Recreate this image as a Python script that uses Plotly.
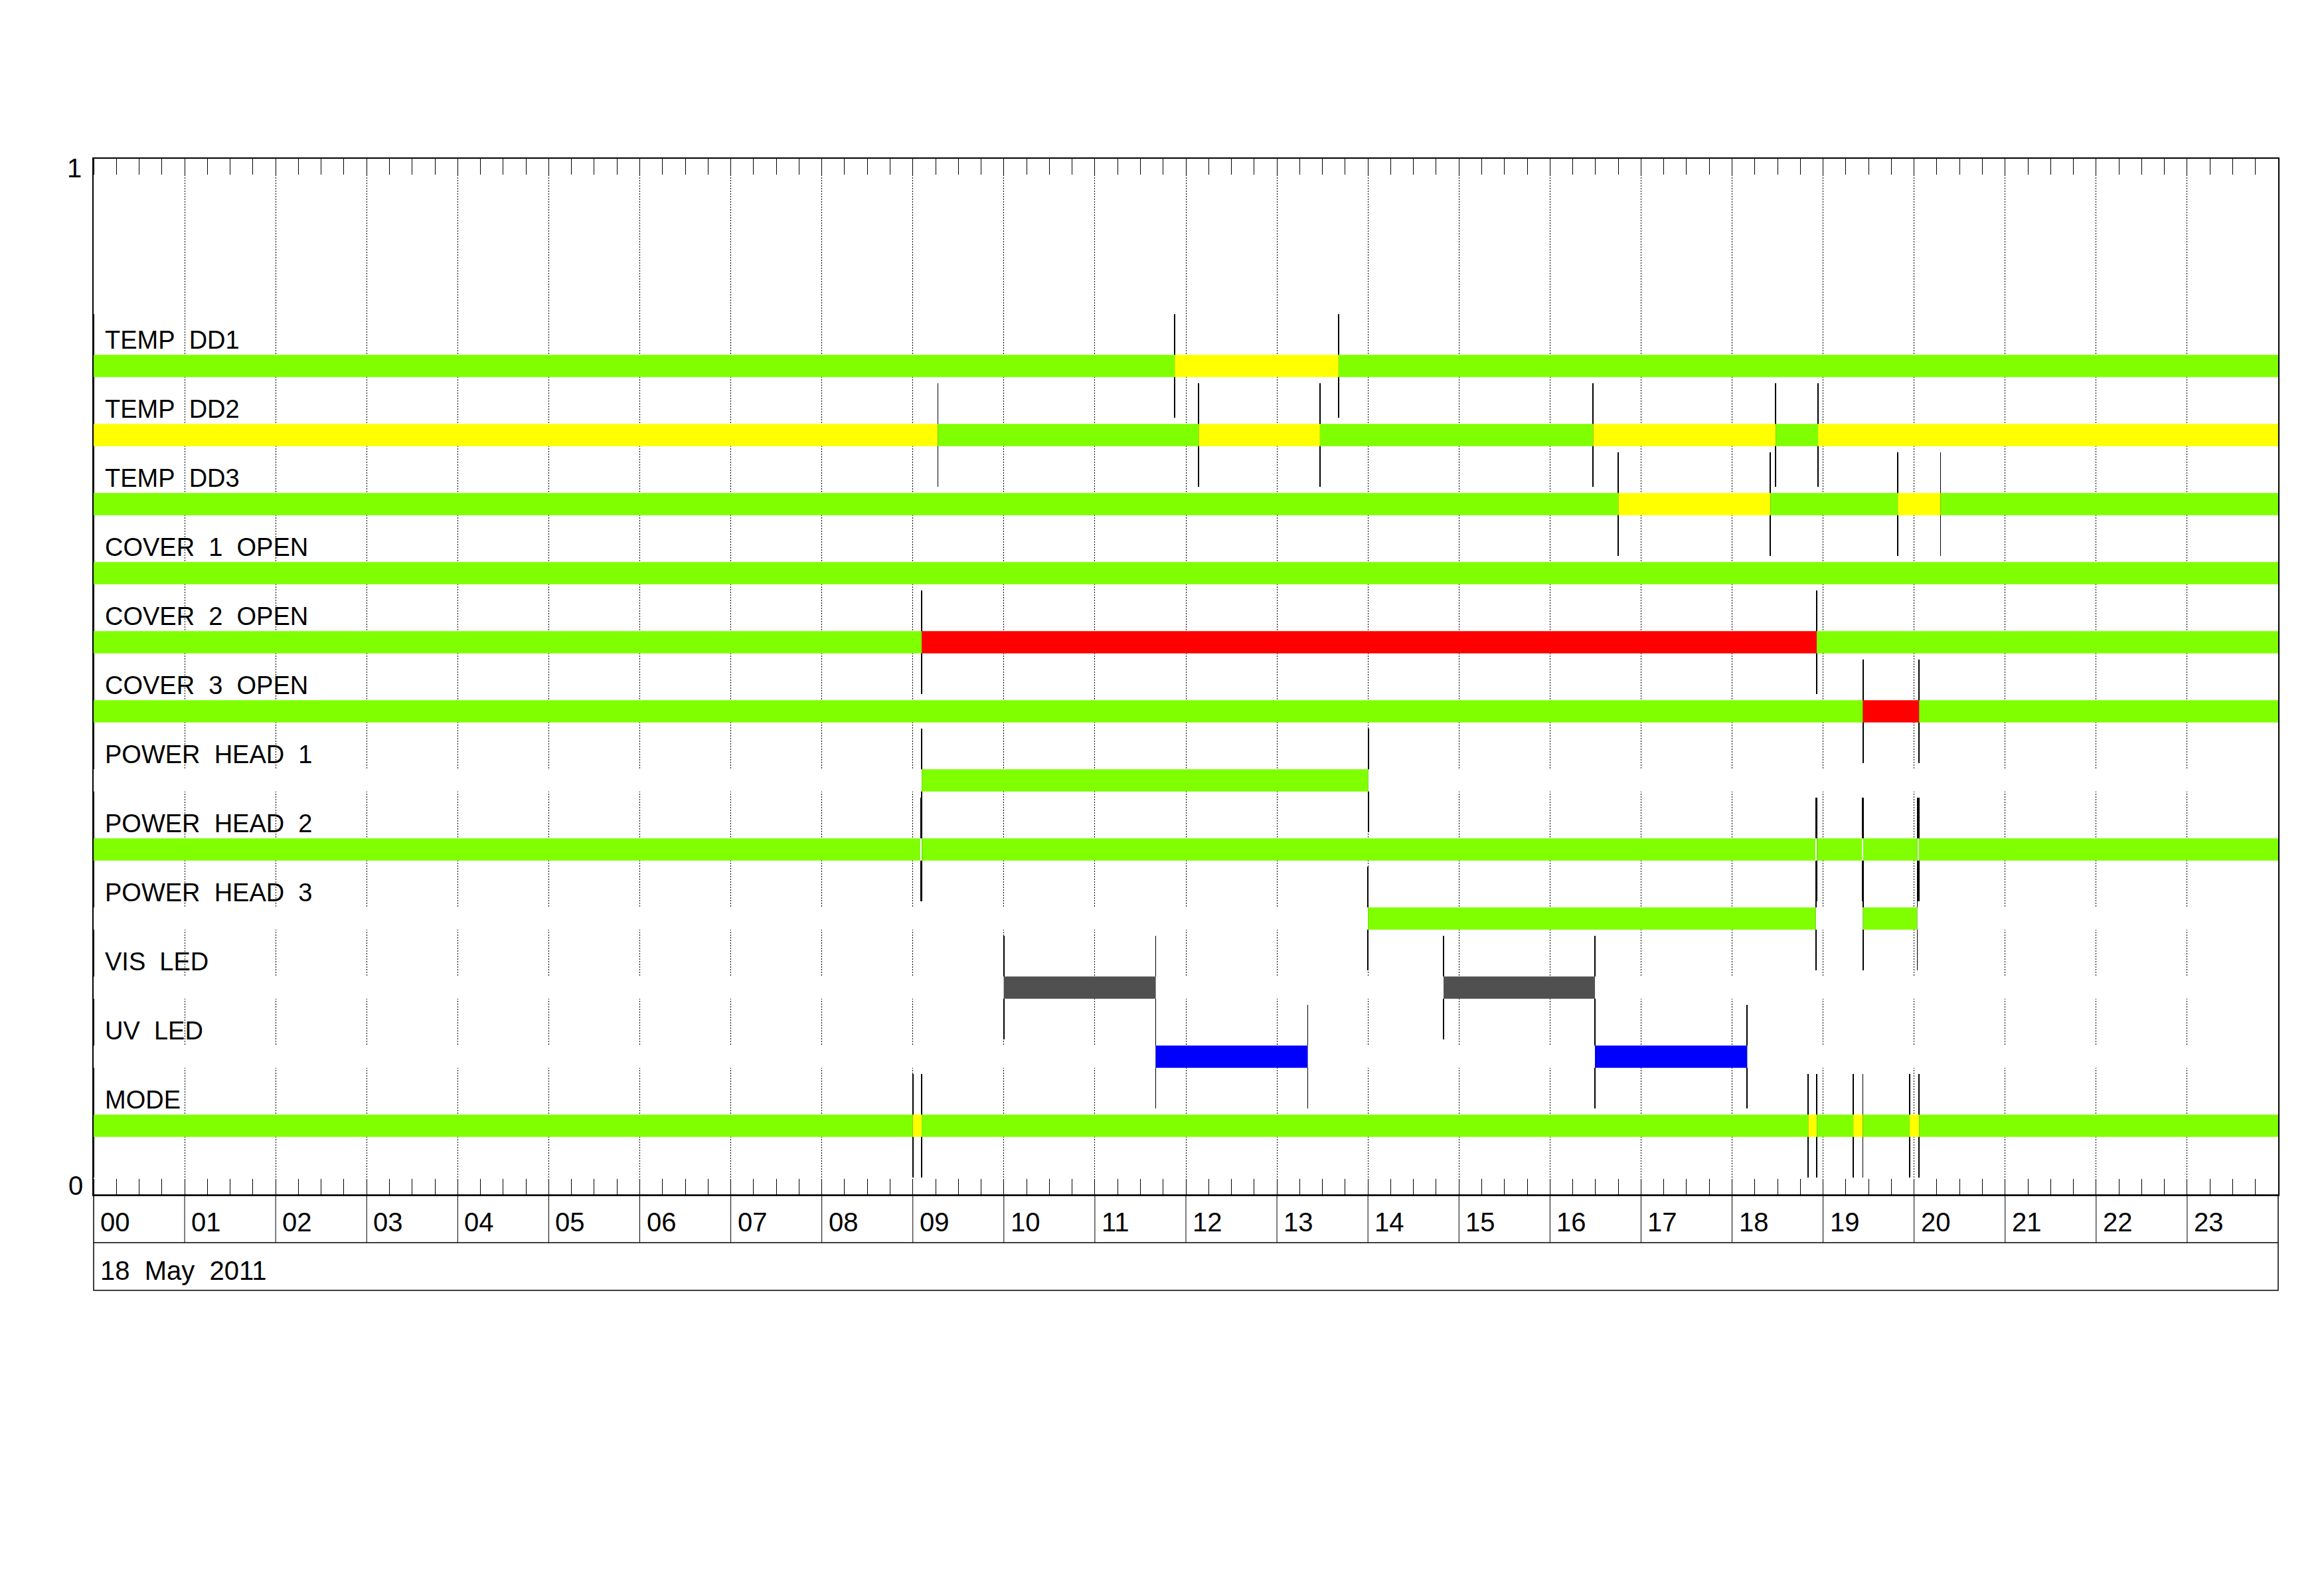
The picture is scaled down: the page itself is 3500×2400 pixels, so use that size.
import plotly.graph_objects as go

# ---------------- data ----------------
HOURS = list(range(24))
HOUR_LABELS = ["%02d" % h for h in HOURS]
DATE_LABEL = "18\u00a0\u00a0May\u00a0\u00a02011"

ROW_NAMES = ["TEMP DD1", "TEMP DD2", "TEMP DD3", "COVER 1 OPEN", "COVER 2 OPEN",
             "COVER 3 OPEN", "POWER HEAD 1", "POWER HEAD 2", "POWER HEAD 3",
             "VIS LED", "UV LED", "MODE"]
ROW_LEVELS = [0.8000, 0.7333, 0.6667, 0.6000, 0.5333, 0.4667,
              0.4000, 0.3333, 0.2667, 0.2000, 0.1333, 0.0667]

TEMP_DD1_EDGES = [0.0, 11.877, 13.677, 24.0]
TEMP_DD1_STATES = ["ok", "warn", "ok"]
TEMP_DD2_EDGES = [0.0, 9.275, 12.141, 13.473, 16.474, 18.479, 18.945, 24.0]
TEMP_DD2_STATES = ["warn", "ok", "warn", "ok", "warn", "ok", "warn"]
TEMP_DD3_EDGES = [0.0, 16.751, 18.421, 19.821, 20.290, 24.0]
TEMP_DD3_STATES = ["ok", "warn", "ok", "warn", "ok"]
COVER1_EDGES = [0.0, 24.0]
COVER1_STATES = ["ok"]
COVER2_EDGES = [0.0, 9.097, 18.930, 24.0]
COVER2_STATES = ["ok", "alarm", "ok"]
COVER3_EDGES = [0.0, 19.438, 20.055, 24.0]
COVER3_STATES = ["ok", "alarm", "ok"]
HEAD1_EDGES = [0.0, 9.098, 14.005, 24.0]
HEAD1_STATES = ["off", "ok", "off"]
HEAD2_EDGES = [0.0, 9.088, 9.100, 18.921, 18.933, 19.431, 19.440, 20.036, 20.052, 24.0]
HEAD2_STATES = ["ok", "off", "ok", "off", "ok", "off", "ok", "off", "ok"]
HEAD3_EDGES = [0.0, 14.000, 18.921, 19.438, 20.035, 24.0]
HEAD3_STATES = ["off", "ok", "off", "ok", "off"]
VIS_EDGES = [0.0, 10.000, 11.668, 14.833, 16.494, 24.0]
VIS_STATES = ["off", "vis", "off", "vis", "off"]
UV_EDGES = [0.0, 11.668, 13.339, 16.494, 18.167, 24.0]
UV_STATES = ["off", "uv", "off", "uv", "off"]
MODE_EDGES = [0.0, 9.000, 9.097, 18.837, 18.932, 19.332, 19.437, 19.951, 20.055, 24.0]
MODE_STATES = ["ok", "warn", "ok", "warn", "ok", "warn", "ok", "warn", "ok"]

ROWS_EDGES = [TEMP_DD1_EDGES, TEMP_DD2_EDGES, TEMP_DD3_EDGES, COVER1_EDGES, COVER2_EDGES,
              COVER3_EDGES, HEAD1_EDGES, HEAD2_EDGES, HEAD3_EDGES, VIS_EDGES, UV_EDGES,
              MODE_EDGES]
ROWS_STATES = [TEMP_DD1_STATES, TEMP_DD2_STATES, TEMP_DD3_STATES, COVER1_STATES,
               COVER2_STATES, COVER3_STATES, HEAD1_STATES, HEAD2_STATES, HEAD3_STATES,
               VIS_STATES, UV_STATES, MODE_STATES]

# ---------------- style ----------------
STATE_COLORS = {"ok": "#7FFF00", "warn": "#FFFF00", "alarm": "#FF0000",
                "off": "#FFFFFF", "vis": "#505050", "uv": "#0000FF"}
BAR_THICK = 0.0215
MARK_HALF = 0.05
MARK_WIDTH = 0.006
FONT = "Liberation Sans"

fig = go.Figure()

# transition markers (drawn first so bars sit on top of them)
mx, mbase, mh = [], [], []
for level, edges in zip(ROW_LEVELS, ROWS_EDGES):
    for t in sorted(set(edges[:-1])):
        mx.append(t)
        mbase.append(level - MARK_HALF)
        mh.append(2 * MARK_HALF)
fig.add_trace(go.Bar(orientation="v", x=mx, y=mh, base=mbase, width=MARK_WIDTH,
                     marker=dict(color="black", line=dict(width=0)),
                     hoverinfo="skip", showlegend=False))

# state bars
for name, level, edges, states in zip(ROW_NAMES, ROW_LEVELS, ROWS_EDGES, ROWS_STATES):
    starts = edges[:-1]
    durs = [b - a for a, b in zip(edges[:-1], edges[1:])]
    fig.add_trace(go.Bar(orientation="h", y=[level] * len(starts), x=durs, base=starts,
                         width=BAR_THICK, name=name,
                         marker=dict(color=[STATE_COLORS[s] for s in states],
                                     line=dict(width=0)),
                         hoverinfo="skip", showlegend=False))

annotations = []
for name, level in zip(ROW_NAMES, ROW_LEVELS):
    annotations.append(dict(xref="x", yref="y", x=0, y=level + 0.0252, xanchor="left",
                            yanchor="middle", xshift=15, showarrow=False,
                            text=name.replace(" ", "\u00a0\u00a0"),
                            font=dict(family=FONT, size=38, color="black")))
for h, lab in zip(HOURS, HOUR_LABELS):
    annotations.append(dict(xref="x", yref="paper", x=h, y=-0.0264, xanchor="left",
                            yanchor="middle", xshift=8, showarrow=False, text=lab,
                            font=dict(family=FONT, size=40, color="black")))
annotations.append(dict(xref="paper", yref="paper", x=0, y=-0.0731, xanchor="left",
                        yanchor="middle", xshift=8, showarrow=False, text=DATE_LABEL,
                        font=dict(family=FONT, size=40, color="black")))
annotations.append(dict(xref="paper", yref="paper", x=0, y=1, xanchor="right",
                        yanchor="top", xshift=-16, yshift=10, showarrow=False, text="1",
                        font=dict(family=FONT, size=40, color="black")))
annotations.append(dict(xref="paper", yref="paper", x=0, y=0, xanchor="right",
                        yanchor="bottom", xshift=-14, yshift=-10, showarrow=False, text="0",
                        font=dict(family=FONT, size=40, color="black")))

STRIP1 = -0.04615
STRIP2 = -0.0921
shapes = [
    dict(type="rect", xref="paper", yref="paper", x0=0, x1=1, y0=STRIP2, y1=0,
         line=dict(color="black", width=1.5), fillcolor="rgba(0,0,0,0)"),
    dict(type="line", xref="paper", yref="paper", x0=0, x1=1, y0=STRIP1, y1=STRIP1,
         line=dict(color="black", width=1.5)),
]
for h in HOURS[1:]:
    shapes.append(dict(type="line", xref="x", yref="paper", x0=h, x1=h, y0=STRIP1, y1=0,
                       line=dict(color="black", width=1)))

fig.update_layout(
    width=3500, height=2400,
    margin=dict(l=141, r=69, t=239, b=601, pad=0),
    paper_bgcolor="white", plot_bgcolor="white",
    barmode="overlay", showlegend=False,
    annotations=annotations, shapes=shapes,
    xaxis=dict(range=[0, 24], tickmode="array", tickvals=HOURS + [24], ticks="",
               showticklabels=False, showgrid=True, gridcolor="black", gridwidth=1,
               griddash="2px,2px", showline=True, linecolor="black", linewidth=1.5,
               mirror="ticks", zeroline=False,
               minor=dict(tickmode="linear", tick0=0, dtick=0.25, ticks="inside",
                          ticklen=24, tickwidth=1, tickcolor="black", showgrid=False)),
    yaxis=dict(range=[0, 1], showgrid=False, zeroline=False, showticklabels=False,
               ticks="", showline=True, linecolor="black", linewidth=1.5, mirror=True,
               layer="below traces"),
)

fig.write_html("out.html", config={"displayModeBar": False},
               post_script="document.body.style.margin='0';")
